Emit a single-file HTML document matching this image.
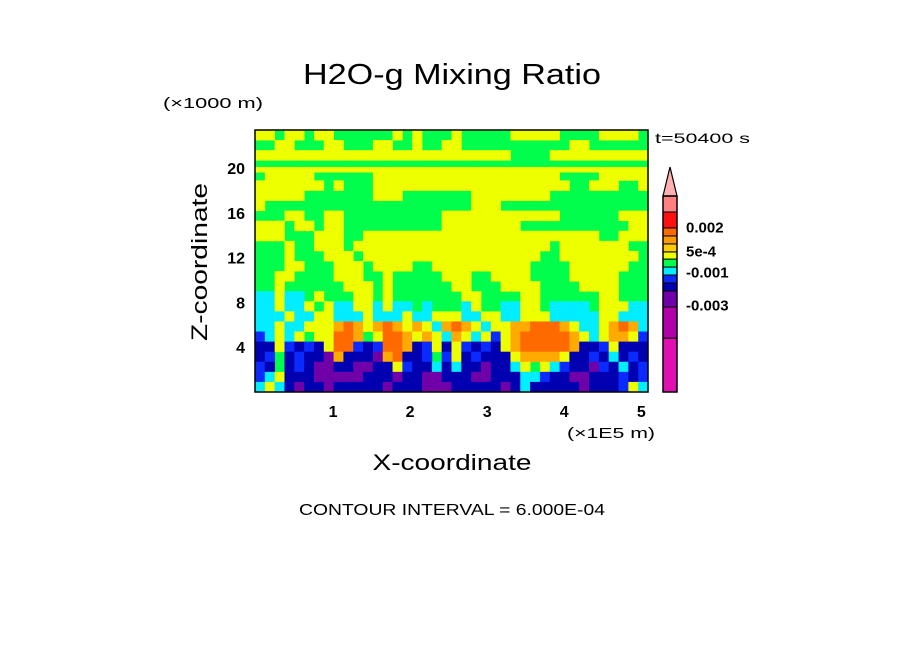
<!DOCTYPE html>
<html><head><meta charset="utf-8"><style>
html,body{margin:0;padding:0;background:#fff;}
svg{display:block;font-family:"Liberation Sans","DejaVu Sans",sans-serif;}
</style></head><body>
<svg id="chart" width="904" height="654" viewBox="0 0 904 654" xmlns="http://www.w3.org/2000/svg">
<rect x="0" y="0" width="904" height="654" fill="#fff"/>
<text x="452" y="84" font-size="29" text-anchor="middle" textLength="298" lengthAdjust="spacingAndGlyphs">H2O-g Mixing Ratio</text>
<text x="163" y="108" font-size="15" textLength="100" lengthAdjust="spacingAndGlyphs">(×1000 m)</text>
<text x="655" y="143" font-size="14" textLength="95" lengthAdjust="spacingAndGlyphs">t=50400 s</text>
<g id="field"></g>
<g id="yticks"></g>
<g id="xticks"></g>
<rect x="255" y="130" width="393" height="262" fill="none" stroke="#000" stroke-width="1.5"/>
<text x="567" y="438" font-size="15" textLength="88" lengthAdjust="spacingAndGlyphs">(×1E5 m)</text>
<text x="452" y="470" font-size="22" text-anchor="middle" textLength="159" lengthAdjust="spacingAndGlyphs">X-coordinate</text>
<text transform="translate(207,262) rotate(-90)" font-size="22" text-anchor="middle" textLength="158" lengthAdjust="spacingAndGlyphs">Z-coordinate</text>
<text x="452" y="515" font-size="16" text-anchor="middle" textLength="306" lengthAdjust="spacingAndGlyphs">CONTOUR INTERVAL = 6.000E-04</text>
<g id="colorbar"></g>
</svg>
<script>
// axis domains
const xDomain = [0, 5.1];
const zDomain = [0, 23.4];
const xTicks = [1, 2, 3, 4, 5];
const zTicks = [4, 8, 12, 16, 20];
// field grid: 40 columns x 26 rows (top to bottom), level codes
const fieldRows = [
"YYGYYGYYGGGGGGYGYGGGYGGGGGYYYYYGGGGYYYYG",
"GGYYGGGYYGGGYYGGYGGYYGGGGGGGGGGGYYGGGGGG",
"YYYYYYYYYYYYYYYYYYYYYYYYYYGGGGYYYYYYYYYY",
"GGGGGGGGGGGGGGGGGGGGGGGGGGGGGGGGGGGGGGGG",
"GYYYYYGGGGGGYYYYYYYYYYYYYYYYYYYGGGGYYYYY",
"YYYYYYYGYGGGYYYYYYYYYYYYYYYYYYYYGGYYYGGY",
"YYYYYGGGGGGGYYYGGGGGGGYYYYYYYYGGGGGGGGGG",
"YGGGGGGGGGGGGGGGGGGGGGYYYGGGGGGGGGGGGGGG",
"GGGYYGGYYGGGGGGGGGGYYYYYYYYYYYYGGGGGGYYY",
"YYYGYYGYYGGGGGGGGGGYYYYYYYYGGGGGGGGGGGYY",
"YYYGGGYYYGGYYYYYYYYYYYYYYYYYYYYYYYYGGYYY",
"GGGYGGYYYGYYYYYYYYYYYYYYYYYYYYGYYYYYYYGG",
"GGGYGGGYYYGYYYYYYYYYYYYYYYYYYGGYYYYYYYYG",
"GGGYYGGGYYYGYYYYGGYYYYYYYYYYGGGGYYYYYYGG",
"GGYYGGGGYYYGGYGGGGGYYYGGYYYYGGGGYYYYYGGG",
"GGYGGGGGGYYYGYGGGGGGYYGGGYYYYGGGGYYYYGGG",
"CCYCCGYGGGYYGYGGGGGGGYYGGGGYYGGGGGGYYGGG",
"CCYCCYGYCCYYCYCCGCGGGCYGGCCYYGCCCCGYYYCC",
"CCCYCCYYCCCYCCCYCCYYYCCYYCCYYYCCCCCYYCCC",
"CCYCCYYYAOAYAOAYAYCAOAYCYYAAOOOAYCCYAOAC",
"BCYCYGYYOOAGYOOAYAYCAYCYBYAOOOOOAYCYAAYB",
"DDYBDBDYOOBDBOOADBYDYBDBDYAOOOOOADDBYDDD",
"DBGDBDDPADDDPAODDBGBYDBDDDYAAAAYDDBDCDBD",
"BDGDBDPPDDPPDDYBDDCDCDDPDDCYGYCBDDPBDCDB",
"BCYDDDPPPPPDDDPDDPPDDDPPDDDCCBDDPPDDDBDB",
"CYCDPDDPDDDDDPDDDPPPDDDDDPDCDDDDDPDDDBYC"
];
const levelCodes = ["P","D","B","C","G","Y","A","O"];
const levelColors = ["#7000a8","#0000b0","#0a2aff","#00eeff","#00ff4c","#eeff00","#ffaa00","#ff6a00"];
// thin full-width yellow stripe (z range, km)
const stripeZ = [19.6, 20.1];
// colorbar levels, bottom to top: span in level units
const cbColors = ["#e010b0","#b000a8","#7000a8","#0000b0","#0a2aff","#00eeff","#00ff4c","#eeff00","#ffcc00","#ff9900","#ff6a00","#ff1010","#ff8080"];
const cbSpan = [6.75,3.9,2,1,1,1,1,0.9,1,1,1,2,2];
const cbLabels = ["0.002","5e-4","-0.001","-0.003"];
const cbLabelLevel = [20.6,17.6,14.95,10.85];

const NS = "http://www.w3.org/2000/svg";
const P = {x0:255, x1:648, y0:392, y1:130};
function sx(v){return P.x0 + (v - xDomain[0])/(xDomain[1]-xDomain[0])*(P.x1-P.x0);}
function sz(v){return P.y0 - (v - zDomain[0])/(zDomain[1]-zDomain[0])*(P.y0-P.y1);}
function mk(tag, attrs){const e=document.createElementNS(NS,tag);for(const k in attrs)e.setAttribute(k,attrs[k]);return e;}

const field = document.getElementById('field');
const bg = mk('rect',{x:P.x0,y:P.y1,width:P.x1-P.x0,height:P.y0-P.y1,fill:"#00ff4c"});


field.appendChild(bg);
const nRows = fieldRows.length, nCols = fieldRows[0].length;
const dx = (xDomain[1]-xDomain[0])/nCols, dz = (zDomain[1]-zDomain[0])/nRows;
fieldRows.forEach((row, i) => {
  for (let j = 0; j < nCols; j++) {
    const code = row[j];
    if (code === "G") continue;
    const xa = sx(xDomain[0] + j*dx), xb = sx(xDomain[0] + (j+1)*dx);
    const za = sz(zDomain[1] - i*dz), zb = sz(zDomain[1] - (i+1)*dz);
    const c = mk('rect',{x:xa.toFixed(2),y:za.toFixed(2),width:(xb-xa+0.4).toFixed(2),height:(zb-za+0.4).toFixed(2),fill:levelColors[levelCodes.indexOf(code)]});
    
    
    field.appendChild(c);
  }
});
const stripe = mk('rect',{x:P.x0,y:sz(stripeZ[1]),width:P.x1-P.x0,height:sz(stripeZ[0])-sz(stripeZ[1]),fill:"#eeff00"});


field.appendChild(stripe);

const yt = document.getElementById('yticks');
zTicks.forEach(t => {
  const e = mk('text',{x:245,y:(sz(t)+6).toFixed(1),'font-size':16,'text-anchor':'end','font-weight':'bold'});
  e.textContent = t;
  
  
  yt.appendChild(e);
});
const xt = document.getElementById('xticks');
xTicks.forEach(t => {
  const e = mk('text',{x:(sx(t)+1).toFixed(1),y:417,'font-size':16,'text-anchor':'middle','font-weight':'bold'});
  e.textContent = t;
  
  
  xt.appendChild(e);
});

// colorbar
const cb = document.getElementById('colorbar');
const cbTotal = cbSpan.reduce((a,b)=>a+b,0);
const CB = {x:663, w:14, y0:392, y1:196};
function cy(lv){return CB.y0 - lv/cbTotal*(CB.y0-CB.y1);}
let acc = 0;
cbSpan.forEach((s, k) => {
  const r = mk('rect',{x:CB.x,y:cy(acc+s).toFixed(2),width:CB.w,height:(cy(acc)-cy(acc+s)).toFixed(2),fill:cbColors[k],stroke:"#000","stroke-width":1});
  
  
  cb.appendChild(r);
  acc += s;
});
const tri = mk('polygon',{points:`${CB.x},${CB.y1} ${CB.x+CB.w/2},167 ${CB.x+CB.w},${CB.y1}`,fill:"#ffb0b0",stroke:"#000","stroke-width":1.2});


cb.appendChild(tri);
const cbOut = mk('rect',{x:CB.x,y:CB.y1,width:CB.w,height:CB.y0-CB.y1,fill:"none",stroke:"#000","stroke-width":1.5});


cb.appendChild(cbOut);
cbLabels.forEach((l, k) => {
  const e = mk('text',{x:686,y:(cy(cbLabelLevel[k])+5).toFixed(1),'font-size':15,'font-weight':'bold'});
  e.textContent = l;
  
  
  cb.appendChild(e);
});
</script>
</body></html>
